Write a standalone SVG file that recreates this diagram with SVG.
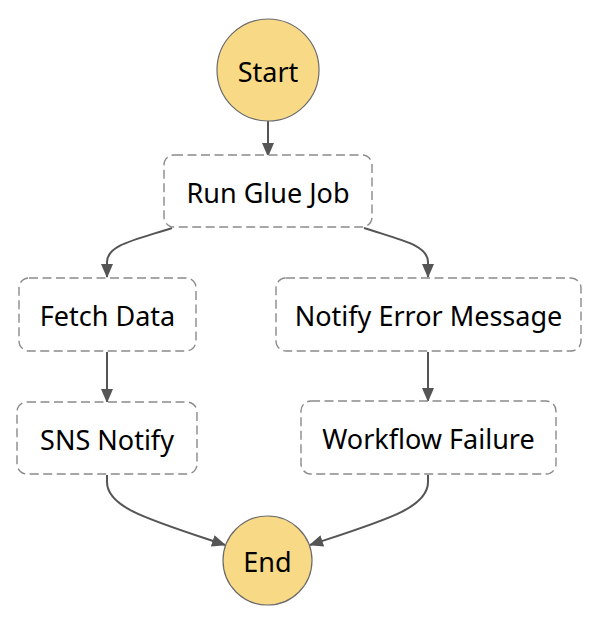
<svg xmlns="http://www.w3.org/2000/svg" width="590" height="626" viewBox="0 0 590 626">
<style>
.term{fill:#F8D986;stroke:#6b6b6b;stroke-width:1.2}
.task{fill:#fff;stroke:#8a8a8a;stroke-width:1.4;stroke-dasharray:9 4.5}
.lbl{font-family:"Noto Sans","Open Sans",sans-serif;font-size:27px;fill:#000;text-anchor:middle;dominant-baseline:central}
.edge{fill:none;stroke:#555;stroke-width:2;marker-end:url(#ah)}
</style>
<defs>
<marker id="ah" viewBox="0 0 14 12" refX="13" refY="6" markerWidth="14" markerHeight="12" markerUnits="userSpaceOnUse" orient="auto">
<path d="M0,0 L14,6 L0,12 Z" fill="#555"/>
</marker>
</defs>
<rect width="590" height="626" fill="#fff"/>
<g id="connectors">
<path class="edge" d="M268,121 L268,156"/>
<path class="edge" d="M172,228 C135,240 107,245 107,262 L107,277"/>
<path class="edge" d="M364,228 C401,240 428,245 428,262 L428,277"/>
<path class="edge" d="M107,352 L107,402"/>
<path class="edge" d="M428,352 L428,401"/>
<path class="edge" d="M107,475 L107,482 C107,508 150,520 225,545"/>
<path class="edge" d="M428,475 L428,482 C428,508 386,520 310,545"/>
</g>
<g id="start">
<circle class="term" cx="268" cy="70" r="51"/>
<text class="lbl" x="268" y="71">Start</text>
</g>
<g id="run-glue-job">
<rect class="task" x="164" y="155" width="208" height="72" rx="10"/>
<text class="lbl" x="268" y="192">Run Glue Job</text>
</g>
<g id="fetch-data">
<rect class="task" x="19" y="278" width="177" height="73" rx="10"/>
<text class="lbl" x="107.5" y="315.5">Fetch Data</text>
</g>
<g id="notify-error-message">
<rect class="task" x="276" y="278" width="305" height="73" rx="10"/>
<text class="lbl" x="428.5" y="315.5">Notify Error Message</text>
</g>
<g id="sns-notify">
<rect class="task" x="17" y="402" width="180" height="72" rx="10"/>
<text class="lbl" x="107" y="439">SNS Notify</text>
</g>
<g id="workflow-failure">
<rect class="task" x="301" y="401" width="255" height="73" rx="10"/>
<text class="lbl" x="428.5" y="438.5">Workflow Failure</text>
</g>
<g id="end">
<circle class="term" cx="267.5" cy="560.5" r="44.5"/>
<text class="lbl" x="267.5" y="561.5">End</text>
</g>
</svg>
